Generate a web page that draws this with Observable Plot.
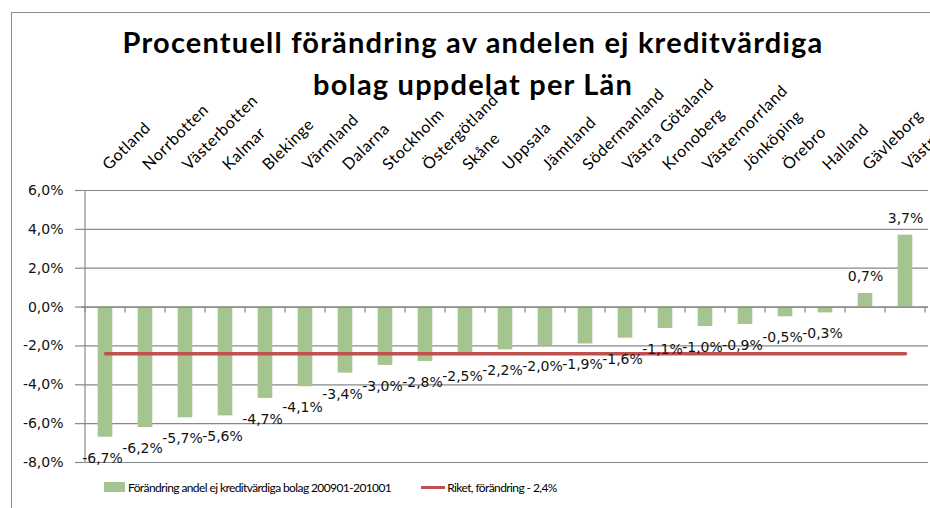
<!DOCTYPE html>
<html>
<head>
<meta charset="utf-8">
<script src="https://cdn.jsdelivr.net/npm/d3@7"></script>
<script src="https://cdn.jsdelivr.net/npm/@observablehq/plot@0.6"></script>
<style>
  body { margin: 0; background: #fff; }
  #wrap { position: relative; width: 930px; height: 508px; overflow: hidden; background: #fff; }
  #border { position: absolute; left: 11px; top: 12px; width: 2000px; height: 2000px;
            border-left: 1.5px solid #8c8c8c; border-top: 1.5px solid #8c8c8c; box-sizing: border-box; }
  .title { position: absolute; left: 0; width: 946px; text-align: center; white-space: nowrap;
           font-family: Lato, "Open Sans", sans-serif; font-weight: bold; font-size: 29px; line-height: 42px;
           letter-spacing: 1.2px; color: #000; }
  #chart { position: absolute; left: 0; top: 0; }
  #legend { position: absolute; top: 478px; left: 104px; height: 18px; display: flex; align-items: center;
            font-family: Lato, sans-serif; font-size: 12px; letter-spacing: -0.6px; color: #000; white-space: nowrap; }
  .sw { display: inline-block; }
</style>
</head>
<body>
<div id="wrap">
  <div id="border"></div>
  <div id="chart"></div>
  <div class="title" id="t1" style="top:21px"></div>
  <div class="title" id="t2" style="top:63px"></div>
  <div id="legend"></div>
</div>
<script>
// ---- data ----
const titleLines = ["Procentuell förändring av andelen ej kreditvärdiga", "bolag uppdelat per Län"];
const categories = ["Gotland","Norrbotten","Västerbotten","Kalmar","Blekinge","Värmland","Dalarna","Stockholm",
  "Östergötland","Skåne","Uppsala","Jämtland","Södermanland","Västra Götaland","Kronoberg","Västernorrland",
  "Jönköping","Örebro","Halland","Gävleborg","Västmanland"];
const changes = [-6.7,-6.2,-5.7,-5.6,-4.7,-4.1,-3.4,-3.0,-2.8,-2.5,-2.2,-2.0,-1.9,-1.6,-1.1,-1.0,-0.9,-0.5,-0.3,0.7,3.7];
const riketChange = -2.4;
const yTicks = [-8,-6,-4,-2,0,2,4,6];
const seriesNames = ["Förändring andel ej kreditvärdiga bolag 200901-201001", "Riket, förändring - 2,4%"];

// ---- styles ----
const barColor = "#a5c48f";
const lineColor = "#c0504d";
const gridColor = "#888888";

const fmt = v => (v < 0 ? "-" : "") + Math.abs(v).toFixed(1).replace(".", ",") + "%";
const data = categories.map((c, i) => ({c, v: changes[i]}));
const riket = categories.map(c => ({c, v: riketChange}));

document.getElementById("t1").textContent = titleLines[0];
document.getElementById("t2").textContent = titleLines[1];

function axisDecor(index, scales, values, dims) {
  const x = scales.x, y = scales.y;
  let bw = x.bandwidth;
  if (typeof bw === "function") bw = bw();
  if (bw == null || isNaN(bw)) bw = (dims.width - dims.marginLeft - dims.marginRight) / categories.length;
  const edges = categories.map(c => x(c)).concat([x(categories[categories.length - 1]) + bw]);
  const g = d3.create("svg:g").attr("stroke", gridColor).attr("stroke-width", 1.2).attr("fill", "none");
  g.append("line")
    .attr("x1", edges[0]).attr("x2", edges[0])
    .attr("y1", y(yTicks[yTicks.length - 1])).attr("y2", y(yTicks[0]));
  g.selectAll(null).data(edges).join("line")
    .attr("x1", d => d).attr("x2", d => d)
    .attr("y1", y(0)).attr("y2", y(0) + 6);
  return g.node();
}

const plot = Plot.plot({
  width: 930, height: 508,
  marginTop: 190, marginBottom: 46, marginLeft: 81, marginRight: 2,
  style: {fontFamily: "DejaVu Sans", fontSize: "14px", color: "#111", background: "transparent", overflow: "visible"},
  x: {type: "band", domain: categories, padding: 0, axis: null},
  y: {domain: [yTicks[0], yTicks[yTicks.length - 1]], axis: null},
  marks: [
    Plot.gridY(yTicks, {stroke: gridColor, strokeOpacity: 1, strokeWidth: 1.2}),
    Plot.axisY(yTicks, {label: null, tickSize: 6, tickPadding: 12, tickFormat: fmt, stroke: gridColor, strokeWidth: 1.2,
      fill: "#111", fontFamily: "DejaVu Sans", fontSize: 14}),
    Plot.barY(data, {x: "c", y: "v", fill: barColor, insetLeft: 12.7, insetRight: 12.7}),
    Plot.ruleY([0], {stroke: gridColor, strokeWidth: 1.2}),
    axisDecor,
    Plot.lineY(riket, {x: "c", y: "v", stroke: lineColor, strokeWidth: 3.5}),
    Plot.text(data.filter(d => d.v < 0), {x: "c", y: "v", text: d => fmt(d.v), dy: 21, dx: -3,
      fill: "#111", fontFamily: "DejaVu Sans", fontSize: 14}),
    Plot.text(data.filter(d => d.v >= 0), {x: "c", y: "v", text: d => fmt(d.v), dy: -17,
      fill: "#111", fontFamily: "DejaVu Sans", fontSize: 14}),
    Plot.axisX({label: null, anchor: "top", tickSize: 0, tickPadding: 23, tickRotate: -45, textAnchor: "start",
      fontFamily: "Lato", fontSize: 16, fill: "#000"})
  ]
});
d3.select(plot).selectAll('g[aria-label="x-axis tick label"] text').style("letter-spacing", "0.6px");
document.getElementById("chart").appendChild(plot);

// ---- legend ----
const legend = d3.select("#legend");
const item1 = legend.append("span").style("display", "inline-flex").style("align-items", "center");
item1.append("span").attr("class", "sw").style("width", "21px").style("height", "10px").style("background", barColor).style("margin-right", "3px");
item1.append("span").text(seriesNames[0]);
const item2 = legend.append("span").style("display", "inline-flex").style("align-items", "center").style("margin-left", "30px");
item2.append("span").attr("class", "sw").style("width", "24px").style("height", "3px").style("background", lineColor).style("margin-right", "2px");
item2.append("span").text(seriesNames[1]);
</script>
</body>
</html>
